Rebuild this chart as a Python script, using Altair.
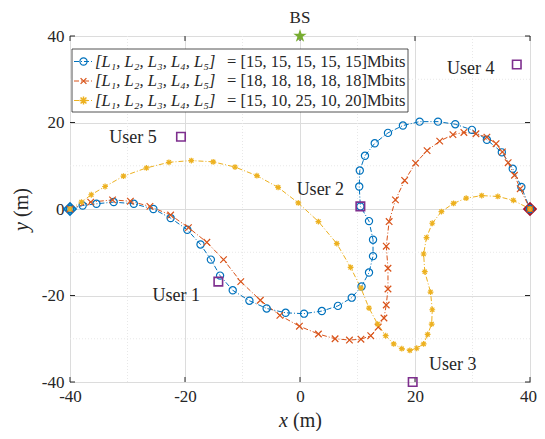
import altair as alt
import pandas as pd

# ---------------- data ----------------
series_names = ["s15", "s18", "smix"]
legend_left = ["[L₁,  L₂,  L₃,  L₄,  L₅]", "[L₁,  L₂,  L₃,  L₄,  L₅]", "[L₁,  L₂,  L₃,  L₄,  L₅]"]
legend_right = ["= [15, 15, 15, 15, 15]Mbits", "= [18, 18, 18, 18, 18]Mbits", "= [15, 10, 25, 10, 20]Mbits"]

blue_x = [-40, -37.8, -35.4, -32.4, -28.9, -25.5, -22.5, -19.6, -17.3, -15.5, -13.9, -11.7, -8.8, -5.8,
          -2.5, 0.7, 3.8, 6.6, 9.0, 10.7, 12.0, 12.7, 12.7, 12.0, 10.5, 10.3, 10.4, 11.3, 13.0, 15.3,
          17.9, 20.8, 24.0, 27.0, 29.9, 32.5, 35.1, 37.0, 38.5, 40]
blue_y = [0, 0.8, 1.2, 1.6, 1.2, 0, -2.1, -4.8, -8.2, -11.7, -15.4, -18.8, -21.2, -23.0,
          -24.0, -24.2, -23.6, -22.4, -20.5, -17.9, -14.7, -10.9, -7.1, -2.8, 0.6, 5.2, 8.9, 12.3, 15.2, 17.6,
          19.3, 20.2, 20.2, 19.6, 18.3, 16.0, 13.1, 9.3, 5.1, 0]

red_x = [-40, -36.4, -32.6, -29.5, -26.1, -22.5, -19.4, -16.2, -13.3, -10.3, -6.9, -3.5, -0.1, 3.2,
         6.1, 8.6, 10.6, 12.3, 13.6, 14.6, 15.0, 15.3, 15.3, 15.0, 15.5, 16.6, 18.2, 20.1, 22.1, 24.3,
         26.6, 28.5, 30.6, 32.5, 34.1, 35.2, 36.2, 37.3, 38.3, 40]
red_y = [0, 1.6, 2.1, 1.8, 0.6, -1.4, -4.3, -7.7, -11.7, -16.8, -21.1, -24.6, -27.1, -28.9,
         -30.0, -30.3, -30.1, -29.3, -27.3, -25.2, -22.2, -18.5, -13.7, -8.6, -2.9, 2.1, 6.6, 10.6, 13.5, 15.7,
         17.2, 17.7, 17.4, 16.6, 15.1, 13.2, 10.7, 7.8, 4.7, 0]

yel_x = [-40, -38.0, -36.3, -33.9, -30.7, -26.7, -22.8, -18.9, -15.1, -11.3, -7.5, -3.8, -0.3, 3.2,
         6.4, 8.8, 10.6, 12.0, 13.5, 14.9, 16.3, 17.7, 19.1, 20.3, 21.5, 22.2, 22.9, 23.0, 22.7, 21.7,
         21.5, 22.0, 23.0, 24.6, 26.7, 28.9, 31.6, 34.4, 37.1, 40]
yel_y = [0, 1.6, 3.3, 5.2, 7.6, 9.5, 10.8, 11.2, 10.9, 9.7, 7.7, 5.0, 1.4, -2.9,
         -8.0, -13.5, -18.3, -22.9, -26.6, -29.3, -31.2, -32.3, -32.7, -32.2, -31.2, -29.0, -26.6, -23.3, -19.2, -14.5,
         -10.4, -6.6, -3.3, -0.6, 1.3, 2.5, 3.1, 2.9, 2.0, 0]

user_names = ["User 1", "User 2", "User 3", "User 4", "User 5"]
user_x = [-14.2, 10.5, 19.6, 37.7, -20.7]
user_y = [-16.8, 0.6, -40, 33.4, 16.7]
bs_x, bs_y, bs_name = [0], [40], ["BS"]
se_x, se_y, se_kind = [-40, 40], [0, 0], ["start", "end"]

major_ticks = [-40, -20, 0, 20, 40]
minor_ticks = [-30, -10, 10, 30]

# ---------------- styles ----------------
colors = ["#0072BD", "#D95319", "#EDB120"]
XPATH = "M-1,-1L1,1M-1,1L1,-1"
ASTER = "M-1,0L1,0M0,-1L0,1M-0.72,-0.72L0.72,0.72M-0.72,0.72L0.72,-0.72"
STAR = ("M0,-1L0.2245,-0.309L0.951,-0.309L0.363,0.118L0.588,0.809L0,0.382L-0.588,0.809"
        "L-0.363,0.118L-0.951,-0.309L-0.2245,-0.309Z")
shapes = ["circle", XPATH, ASTER]
sizes = [52, 34, 66]
widths = [1.2, 1.2, 1.5]
SERIF = "Liberation Serif"
TXT = "#262626"
W, H = 460, 346

rows = []
for name, xs_, ys_ in [(series_names[0], blue_x, blue_y), (series_names[1], red_x, red_y),
                       (series_names[2], yel_x, yel_y)]:
    for i, (a, b) in enumerate(zip(xs_, ys_)):
        rows.append({"series": name, "idx": i, "x": a, "y": b})
df = pd.DataFrame(rows)
users = pd.DataFrame({"name": user_names, "x": user_x, "y": user_y})
bs = pd.DataFrame({"x": bs_x, "y": bs_y, "name": bs_name})
se = pd.DataFrame({"x": se_x, "y": se_y, "k": se_kind})
minor = pd.DataFrame({"x": minor_ticks, "y": minor_ticks})
major = pd.DataFrame({"x": major_ticks, "y": major_ticks})

xs = alt.Scale(domain=[-40, 40], nice=False, zero=False)
ys = alt.Scale(domain=[-40, 40], nice=False, zero=False)
ax = dict(values=major_ticks, labelExpr="'' + datum.value", title=None, grid=True, gridColor="#dcdcdc",
          ticks=False, domain=False, labelFont=SERIF, labelFontSize=17, labelColor=TXT, labelFlush=False,
          labelPadding=6)
X = alt.X("x:Q", scale=xs, axis=alt.Axis(
    labelOffset={"condition": {"test": "datum.value === 40", "value": -2}, "value": 0}, **ax))
Y = alt.Y("y:Q", scale=ys, axis=alt.Axis(**ax))

cscale = alt.Scale(domain=series_names, range=colors)

minor_v = alt.Chart(minor).mark_rule(color="#e8e8e8", strokeDash=[1, 2], strokeWidth=1).encode(x=X)
minor_h = alt.Chart(minor).mark_rule(color="#e8e8e8", strokeDash=[1, 2], strokeWidth=1).encode(y=Y)

# inward tick marks on all four sides
tk = alt.Chart(major).mark_rule(color=TXT, strokeWidth=1)
tick_layers = [
    tk.encode(x=X, y=alt.value(H - 5), y2=alt.value(H)),
    tk.encode(x=X, y=alt.value(0), y2=alt.value(5)),
    tk.encode(y=Y, x=alt.value(0), x2=alt.value(5)),
    tk.encode(y=Y, x=alt.value(W - 5), x2=alt.value(W)),
]

lines = alt.Chart(df).mark_line(strokeDash=[5, 2, 1, 2], strokeWidth=1).encode(
    x=X, y=Y, color=alt.Color("series:N", scale=cscale, legend=None), detail="series:N", order="idx:Q")

pts = alt.Chart(df).mark_point(filled=False, opacity=1).encode(
    x=X, y=Y,
    color=alt.Color("series:N", scale=cscale, legend=None),
    shape=alt.Shape("series:N", scale=alt.Scale(domain=series_names, range=shapes), legend=None),
    size=alt.Size("series:N", scale=alt.Scale(domain=series_names, range=sizes), legend=None),
    strokeWidth=alt.StrokeWidth("series:N", scale=alt.Scale(domain=series_names, range=widths), legend=None))

diamonds = alt.Chart(se).mark_point(shape="diamond", filled=True, size=150, strokeWidth=1.6, opacity=1).encode(
    x=X, y=Y,
    fill=alt.Fill("k:N", scale=alt.Scale(domain=["start", "end"], range=["#4DBEEE", "#D95319"]), legend=None),
    stroke=alt.Stroke("k:N", scale=alt.Scale(domain=["start", "end"], range=["#0072BD", "#A2142F"]), legend=None))

squares = alt.Chart(users).mark_point(shape="square", filled=False, color="#7E2F8E", size=72,
                                      strokeWidth=1.6, opacity=1).encode(x=X, y=Y)

star = alt.Chart(bs).mark_point(shape=STAR, filled=True, color="#77AC30", size=200, opacity=1).encode(x=X, y=Y)
bs_label = alt.Chart(bs).mark_text(font=SERIF, fontSize=17, color=TXT, dy=-18).encode(x=X, y=Y, text="name:N")

offsets = {"User 1": (-42, 14), "User 2": (-40, -16), "User 3": (40, -17), "User 4": (-46, 4), "User 5": (-48, 1)}
user_labels = []
for nm in user_names:
    dx, dy = offsets[nm]
    user_labels.append(alt.Chart(users[users["name"] == nm]).mark_text(
        font=SERIF, fontSize=18, color=TXT, dx=dx, dy=dy).encode(x=X, y=Y, text="name:N"))

# ---------------- legend (manual, in plot pixel space) ----------------
leg_box = alt.Chart(pd.DataFrame({"a": [0]})).mark_rect(fill="white", stroke=TXT, strokeWidth=0.8).encode(
    x=alt.value(2), x2=alt.value(338), y=alt.value(13), y2=alt.value(76))
leg_rows = []
for i, nm in enumerate(series_names):
    yy = 25.5 + 19.5 * i
    one = alt.Chart(pd.DataFrame({"left": [legend_left[i]], "right": [legend_right[i]]}))
    leg_rows.append(one.mark_rule(strokeDash=[5, 2, 1, 2], strokeWidth=1, color=colors[i]).encode(
        x=alt.value(4), x2=alt.value(23), y=alt.value(yy)))
    leg_rows.append(one.mark_point(filled=False, strokeWidth=widths[i], color=colors[i], shape=shapes[i],
                                   size=sizes[i], opacity=1).encode(x=alt.value(13.5), y=alt.value(yy)))
    leg_rows.append(one.mark_text(font=SERIF, fontSize=16.5, fontStyle="italic", align="left", baseline="middle",
                                  color=TXT).encode(x=alt.value(25), y=alt.value(yy), text="left:N"))
    leg_rows.append(one.mark_text(font=SERIF, fontSize=16.5, align="left", baseline="middle",
                                  color=TXT).encode(x=alt.value(157), y=alt.value(yy), text="right:N"))

# ---------------- axis titles ----------------
tdf = pd.DataFrame({"xv": ["x"], "yv": ["y"], "unit": ["(m)"]})
xt1 = alt.Chart(tdf).mark_text(font=SERIF, fontSize=20, fontStyle="italic", align="left", baseline="middle",
                               color=TXT).encode(x=alt.value(209), y=alt.value(385), text="xv:N")
xt2 = alt.Chart(tdf).mark_text(font=SERIF, fontSize=20, align="left", baseline="middle",
                               color=TXT).encode(x=alt.value(223), y=alt.value(385), text="unit:N")
yt1 = alt.Chart(tdf).mark_text(font=SERIF, fontSize=20, fontStyle="italic", align="left", baseline="middle",
                               angle=270, color=TXT).encode(x=alt.value(-48), y=alt.value(195), text="yv:N")
yt2 = alt.Chart(tdf).mark_text(font=SERIF, fontSize=20, align="left", baseline="middle",
                               angle=270, color=TXT).encode(x=alt.value(-48), y=alt.value(181), text="unit:N")

chart = alt.layer(
    minor_v, minor_h, *tick_layers, lines, diamonds, pts, squares, star, bs_label, *user_labels,
    leg_box, *leg_rows, xt1, xt2, yt1, yt2
).properties(
    width=W, height=H,
    autosize=alt.AutoSizeParams(type="none"),
    padding={"left": 62, "top": 28, "right": 7, "bottom": 49},
    background="white",
).configure_view(stroke=TXT, strokeWidth=1)

chart.save("out.html", embed_options={"renderer": "svg", "actions": False})
